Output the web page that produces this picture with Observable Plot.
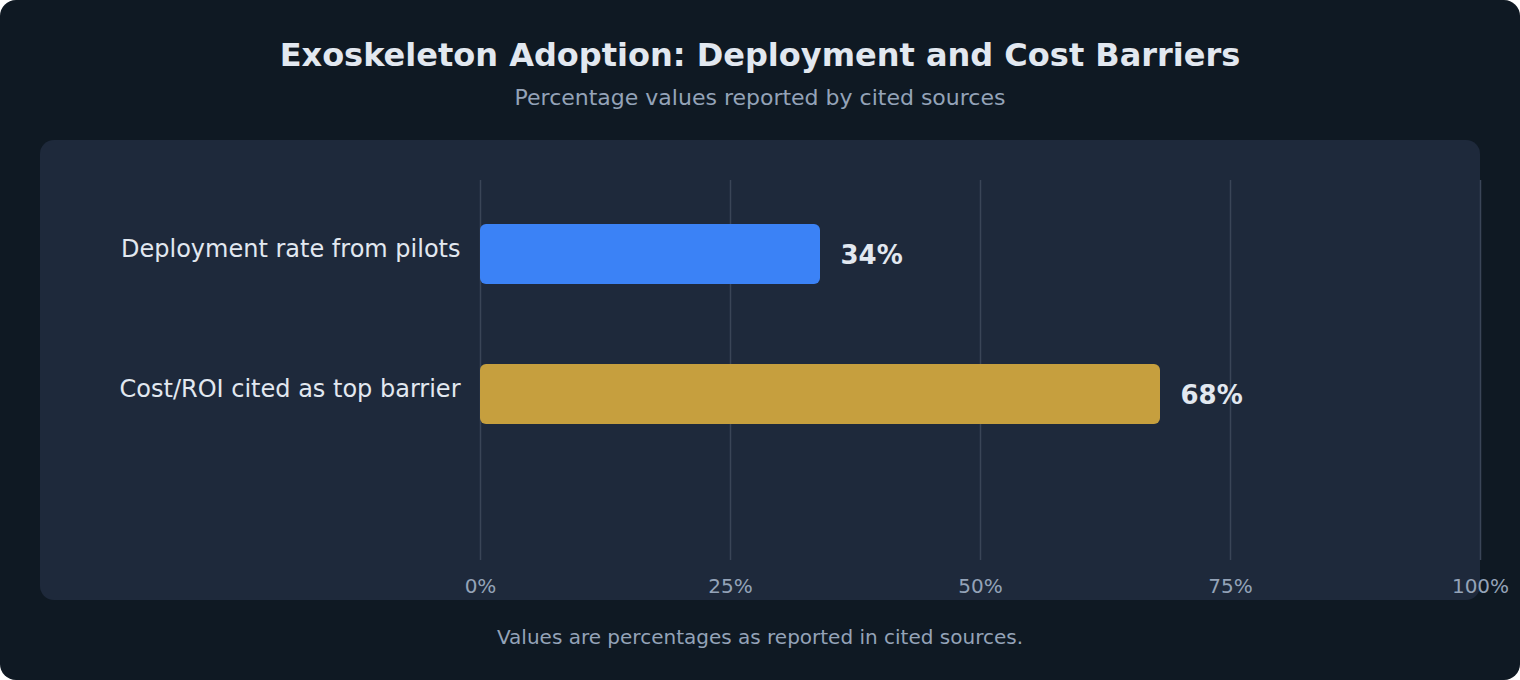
<!DOCTYPE html>
<html>
<head>
<meta charset="utf-8">
<script src="https://cdn.jsdelivr.net/npm/d3@7"></script>
<script src="https://cdn.jsdelivr.net/npm/@observablehq/plot@0.6"></script>
<style>
  html, body { margin: 0; padding: 0; background: #ffffff; }
  #card {
    position: relative; width: 1520px; height: 680px; background: #0f1923;
    border-radius: 16px; overflow: hidden; font-family: "DejaVu Sans", sans-serif;
  }
  .t { position: absolute; left: 0; width: 1520px; text-align: center; line-height: 1; white-space: nowrap; }
  #title { top: 39px; font-size: 32px; font-weight: bold; color: #e2e8f0; }
  #subtitle { top: 87px; font-size: 22px; color: #94a3b8; }
  #footer { top: 627px; font-size: 20px; color: #94a3b8; }
  #panel { position: absolute; left: 40px; top: 140px; width: 1440px; height: 460px; background: #1e293b; border-radius: 14px; }
  #chart { position: absolute; left: 0; top: 140px; }
</style>
</head>
<body>
<div id="card">
  <div id="panel"></div>
  <div class="t" id="title">Exoskeleton Adoption: Deployment and Cost Barriers</div>
  <div class="t" id="subtitle">Percentage values reported by cited sources</div>
  <div id="chart"></div>
  <div class="t" id="footer">Values are percentages as reported in cited sources.</div>
</div>
<script>
const categories = ["Deployment rate from pilots", "Cost/ROI cited as top barrier"];
const values = [34, 68];
const barColors = ["#3b82f6", "#c69f3e"];
const xTicks = [0, 25, 50, 75, 100];
const valueLabels = ["34%", "68%"];

const data = categories.map((c, i) => ({category: c, value: values[i], label: valueLabels[i]}));

const chart = Plot.plot({
  width: 1520,
  height: 460,
  marginLeft: 480,
  marginRight: 40,
  marginTop: 40,
  marginBottom: 40,
  style: {background: "transparent", fontFamily: "DejaVu Sans, sans-serif", color: "#94a3b8"},
  x: {domain: [0, 100], ticks: xTicks},
  y: {domain: categories, range: [40, 320], padding: 0},
  color: {domain: categories, range: barColors},
  marks: [
    Plot.ruleX(xTicks, {stroke: "#3a4557", strokeWidth: 1.5}),
    Plot.barX(data, {x: "value", y: "category", fill: "category", insetTop: 44, insetBottom: 36, rx: 6}),
    Plot.text(data, {x: "value", y: "category", text: "label", dx: 20, dy: 5, textAnchor: "start",
      fontSize: 26, fontWeight: "bold", fill: "#e2e8f0"}),
    Plot.axisX({ticks: xTicks, tickFormat: d => d + "%", tickSize: 0, tickPadding: 18, fontSize: 20,
      fill: "#94a3b8", label: null}),
    Plot.axisY({tickSize: 0, tickPadding: 20, fontSize: 24, fill: "#e2e8f0", label: null, dy: -1})
  ]
});
document.getElementById("chart").appendChild(chart);
</script>
</body>
</html>
